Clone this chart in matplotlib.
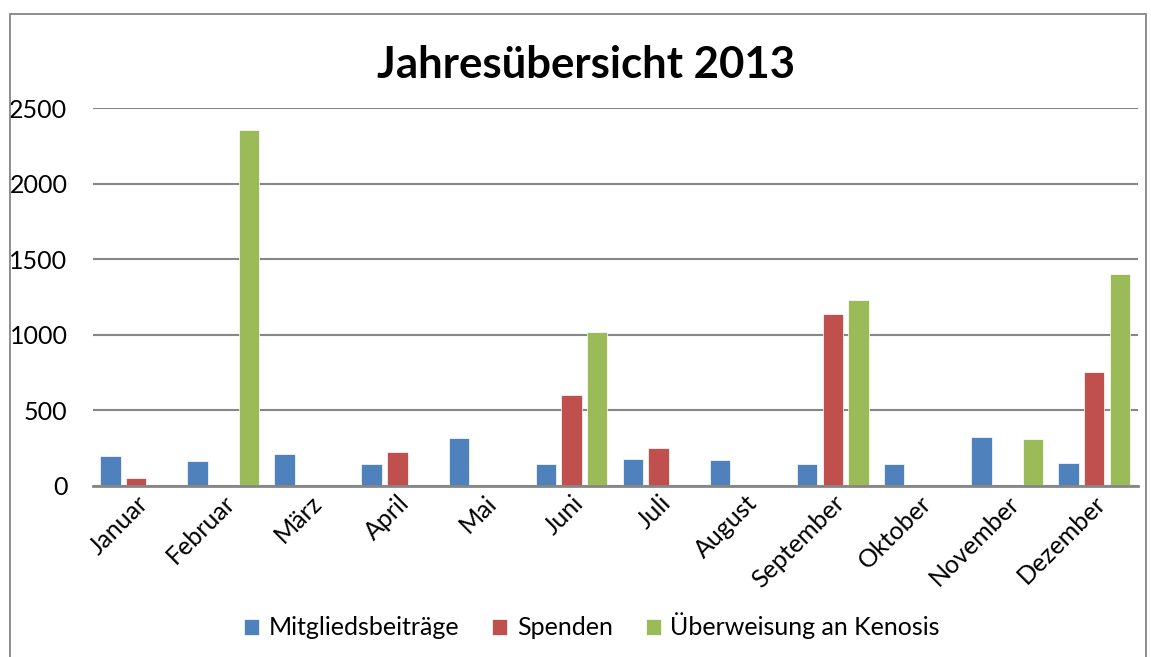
import matplotlib.pyplot as plt
import matplotlib.patches as mpatches
import numpy as np

months = ["Januar", "Februar", "März", "April", "Mai", "Juni", "Juli",
          "August", "September", "Oktober", "November", "Dezember"]
beitraege = [197, 166, 210, 146, 314, 142, 175, 170, 142, 145, 325, 152]
spenden = [51, 0, 0, 221, 0, 599, 250, 0, 1137, 0, 0, 750]
kenosis = [0, 2357, 0, 0, 0, 1018, 0, 0, 1231, 0, 309, 1401]
series_names = ["Mitgliedsbeiträge", "Spenden", "Überweisung an Kenosis"]
colors = ["#4F81BD", "#C0504D", "#9BBB59"]

plt.rcParams['font.family'] = ['Lato', 'DejaVu Sans']

fig = plt.figure(figsize=(11.51, 6.57), dpi=100)
ax = fig.add_axes([92.5 / 1151, 1 - 485.7 / 657, (1137.7 - 92.5) / 1151, (485.7 - 108.3) / 657])

# outer chart border
fig.patches.append(mpatches.Rectangle((9.5 / 1151, -0.01), (1146 - 9.5) / 1151, 1 - 13.5 / 657 + 0.01,
                                      transform=fig.transFigure, fill=False,
                                      edgecolor="#868686", linewidth=1.3))

x = np.arange(len(months))
w = 0.235
off = 0.295
for i, (vals, c, name) in enumerate(zip([beitraege, spenden, kenosis], colors, series_names)):
    ax.bar(x + (i - 1) * off, vals, width=w, color=c, edgecolor="white", linewidth=0.5,
           label=name, zorder=3)

ax.set_xlim(-0.5, len(months) - 0.5)
ax.set_ylim(0, 2500)
ax.set_yticks(range(0, 2501, 500))
ax.yaxis.grid(True, color="#868686", linewidth=1.5, zorder=0)
ax.set_axisbelow(True)
for s in ["top", "right", "left"]:
    ax.spines[s].set_visible(False)
ax.spines["bottom"].set_color("#868686")
ax.spines["bottom"].set_linewidth(2)
ax.spines["bottom"].set_zorder(4)

ax.tick_params(axis="y", length=0, pad=18, labelsize=18)
ax.tick_params(axis="x", length=0, pad=4, labelsize=18)
ax.set_xticks(x)
ax.set_xticklabels(months, rotation=45, ha="right", va="top", rotation_mode="anchor")

fig.text(586 / 1151, 1 - 65 / 657, "Jahresübersicht 2013", ha="center", va="center",
         fontsize=31.5, fontweight="bold")

fig.legend(loc="center", bbox_to_anchor=(592 / 1151, 1 - 626 / 657), ncol=3, frameon=False,
           fontsize=18, handlelength=0.6, handleheight=0.6, handletextpad=0.4,
           columnspacing=1.3)

fig.savefig("out.png", dpi=100)
